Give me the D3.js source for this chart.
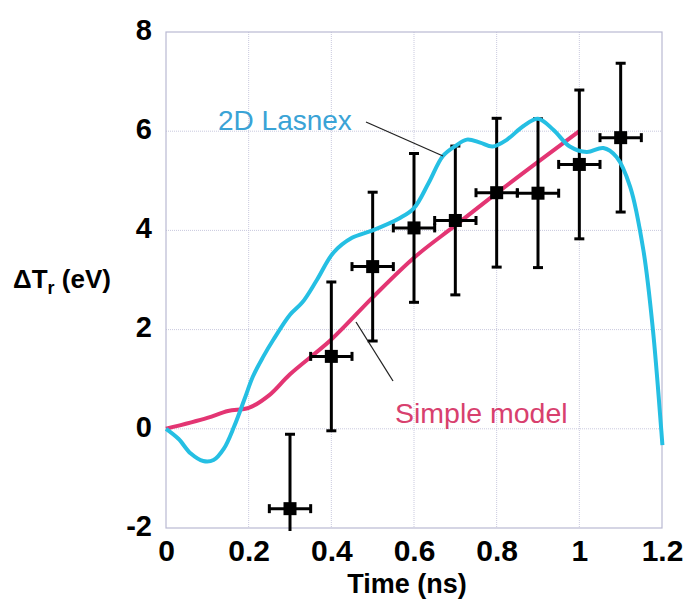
<!DOCTYPE html>
<html>
<head>
<meta charset="utf-8">
<script src="https://cdn.jsdelivr.net/npm/d3@7"></script>
<style>
  body { margin: 0; background: #fff; }
  text { font-family: "Liberation Sans", Arial, sans-serif; }
</style>
</head>
<body>
<div id="chart"></div>
<script>
// measured points (Time ns, delta Tr eV, +/- errors)
var measTime = [0.3, 0.4, 0.5, 0.6, 0.7, 0.8, 0.9, 1.0, 1.1];
var measDT   = [-1.61, 1.46, 3.27, 4.05, 4.2, 4.76, 4.75, 5.33, 5.87];
var measErrY = [1.5, 1.5, 1.5, 1.5, 1.5, 1.5, 1.5, 1.5, 1.5];
var measErrX = [0.05, 0.05, 0.05, 0.05, 0.05, 0.05, 0.05, 0.05, 0.05];

// 2D Lasnex curve
var lasnexT = [0, 0.03, 0.06, 0.09, 0.115, 0.14, 0.165, 0.19, 0.21, 0.235, 0.26, 0.3, 0.33, 0.365, 0.405, 0.45, 0.5, 0.566, 0.6, 0.635, 0.67, 0.70, 0.728, 0.76, 0.79, 0.825, 0.864, 0.9, 0.937, 0.977, 1.018, 1.058, 1.09, 1.123, 1.155, 1.178, 1.198, 1.201];
var lasnexV = [0, -0.2, -0.5, -0.65, -0.63, -0.4, 0.05, 0.6, 1.05, 1.45, 1.8, 2.3, 2.55, 3.0, 3.55, 3.85, 4.0, 4.25, 4.45, 4.95, 5.5, 5.7, 5.83, 5.77, 5.69, 5.83, 6.1, 6.25, 6.03, 5.69, 5.58, 5.66, 5.48, 4.88, 3.6, 2.0, 0.0, -0.33];

// Simple model curve
var simpleT = [0, 0.1, 0.15, 0.2, 0.25, 0.3, 0.4, 0.5, 0.6, 0.7, 0.8, 0.9, 1.0];
var simpleV = [0, 0.22, 0.36, 0.42, 0.68, 1.1, 1.8, 2.65, 3.45, 4.1, 4.75, 5.38, 6.0];

var xTicks = [0, 0.2, 0.4, 0.6, 0.8, 1, 1.2];
var yTicks = [-2, 0, 2, 4, 6, 8];

var width = 692, height = 605;
var margin = {top: 32, right: 30, bottom: 77, left: 166};

var svg = d3.select("#chart").append("svg")
    .attr("width", width)
    .attr("height", height);

var x = d3.scaleLinear().domain([0, 1.2]).range([margin.left, width - margin.right]);
var y = d3.scaleLinear().domain([-2, 8]).range([height - margin.bottom, margin.top]);

var gridColor = "#c9c9de";

// grid
svg.append("g")
  .selectAll("line")
  .data(xTicks.slice(1, -1))
  .enter().append("line")
  .attr("x1", function(d) { return x(d); })
  .attr("x2", function(d) { return x(d); })
  .attr("y1", y(8))
  .attr("y2", y(-2))
  .attr("stroke", gridColor)
  .attr("stroke-width", 1)
  .attr("stroke-dasharray", "1,1");

svg.append("g")
  .selectAll("line")
  .data(yTicks.slice(1, -1))
  .enter().append("line")
  .attr("x1", x(0))
  .attr("x2", x(1.2))
  .attr("y1", function(d) { return y(d); })
  .attr("y2", function(d) { return y(d); })
  .attr("stroke", gridColor)
  .attr("stroke-width", 1)
  .attr("stroke-dasharray", "1,1");

// frame
svg.append("rect")
  .attr("x", x(0))
  .attr("y", y(8))
  .attr("width", x(1.2) - x(0))
  .attr("height", y(-2) - y(8))
  .attr("fill", "none")
  .attr("stroke", "#b9b9d2")
  .attr("stroke-width", 1.2);

// axes labels
var xAxis = d3.axisBottom(x).tickValues(xTicks).tickSize(0).tickPadding(12)
  .tickFormat(function(d) { return String(d); });
svg.append("g")
  .attr("transform", "translate(0," + y(-2) + ")")
  .call(xAxis)
  .call(function(g) { g.select(".domain").remove(); })
  .selectAll("text")
  .attr("font-size", 30)
  .attr("font-weight", "bold")
  .attr("fill", "#000")
  .attr("font-family", "Liberation Sans, Arial, sans-serif");

var yAxis = d3.axisLeft(y).tickValues(yTicks).tickSize(0).tickPadding(14)
  .tickFormat(function(d) { return String(d); });
svg.append("g")
  .attr("transform", "translate(" + x(0) + ",0)")
  .call(yAxis)
  .call(function(g) { g.select(".domain").remove(); })
  .selectAll("text")
  .attr("font-size", 29)
  .attr("font-weight", "bold")
  .attr("fill", "#000")
  .attr("dy", "0.25em")
  .attr("font-family", "Liberation Sans, Arial, sans-serif");

svg.append("text")
  .attr("x", 407)
  .attr("y", 593)
  .attr("text-anchor", "middle")
  .attr("font-size", 27)
  .attr("font-weight", "bold")
  .text("Time (ns)");

var yl = svg.append("text")
  .attr("x", 13)
  .attr("y", 288)
  .attr("font-size", 26)
  .attr("font-weight", "bold");
yl.append("tspan").text("\u0394T");
yl.append("tspan").attr("font-size", 18).attr("dy", 6).text("r");
yl.append("tspan").attr("dy", -6).text(" (eV)");

// clip for the low error bar
svg.append("clipPath").attr("id", "plotclip")
  .append("rect")
  .attr("x", x(0) - 5)
  .attr("y", y(8) - 5)
  .attr("width", x(1.2) - x(0) + 10)
  .attr("height", y(-2) - y(8) + 8);

var plot = svg.append("g").attr("clip-path", "url(#plotclip)");

var lasnex = lasnexT.map(function(t, i) { return [t, lasnexV[i]]; });
var simple = simpleT.map(function(t, i) { return [t, simpleV[i]]; });

var line = d3.line()
  .x(function(d) { return x(d[0]); })
  .y(function(d) { return y(d[1]); })
  .curve(d3.curveCatmullRom.alpha(0.5));

plot.append("path")
  .datum(simple)
  .attr("d", line)
  .attr("fill", "none")
  .attr("stroke", "#e33573")
  .attr("stroke-width", 4);

// measurements with error bars
var meas = measTime.map(function(t, i) {
  return {t: t, v: measDT[i], ey: measErrY[i], ex: measErrX[i]};
});

var pts = plot.selectAll(".pt")
  .data(meas)
  .enter().append("g")
  .attr("class", "pt");

pts.append("line")
  .attr("x1", function(d) { return x(d.t); })
  .attr("x2", function(d) { return x(d.t); })
  .attr("y1", function(d) { return y(d.v + d.ey); })
  .attr("y2", function(d) { return y(d.v - d.ey); })
  .attr("stroke", "#000")
  .attr("stroke-width", 3);

pts.append("line")
  .attr("x1", function(d) { return x(d.t - d.ex); })
  .attr("x2", function(d) { return x(d.t + d.ex); })
  .attr("y1", function(d) { return y(d.v); })
  .attr("y2", function(d) { return y(d.v); })
  .attr("stroke", "#000")
  .attr("stroke-width", 3);

[1, -1].forEach(function(s) {
  pts.append("line")
    .attr("x1", function(d) { return x(d.t) - 5; })
    .attr("x2", function(d) { return x(d.t) + 5; })
    .attr("y1", function(d) { return y(d.v + s * d.ey); })
    .attr("y2", function(d) { return y(d.v + s * d.ey); })
    .attr("stroke", "#000")
    .attr("stroke-width", 3);
  pts.append("line")
    .attr("x1", function(d) { return x(d.t + s * d.ex); })
    .attr("x2", function(d) { return x(d.t + s * d.ex); })
    .attr("y1", function(d) { return y(d.v) - 4.5; })
    .attr("y2", function(d) { return y(d.v) + 4.5; })
    .attr("stroke", "#000")
    .attr("stroke-width", 3);
});

pts.append("rect")
  .attr("x", function(d) { return x(d.t) - 6.5; })
  .attr("y", function(d) { return y(d.v) - 6.5; })
  .attr("width", 13)
  .attr("height", 13)
  .attr("fill", "#000");

plot.append("path")
  .datum(lasnex)
  .attr("d", line)
  .attr("fill", "none")
  .attr("stroke", "#25bfe3")
  .attr("stroke-width", 4);

// annotations
svg.append("text")
  .attr("x", 218)
  .attr("y", 130)
  .attr("font-size", 28)
  .attr("fill", "#3aa3d6")
  .text("2D Lasnex");

svg.append("line")
  .attr("x1", 366).attr("y1", 122)
  .attr("x2", 443).attr("y2", 156)
  .attr("stroke", "#222")
  .attr("stroke-width", 1.3);

svg.append("text")
  .attr("x", 395)
  .attr("y", 423)
  .attr("font-size", 28.5)
  .attr("fill", "#d8406e")
  .text("Simple model");

svg.append("line")
  .attr("x1", 356).attr("y1", 322)
  .attr("x2", 393).attr("y2", 381)
  .attr("stroke", "#222")
  .attr("stroke-width", 1.3);
</script>
</body>
</html>
